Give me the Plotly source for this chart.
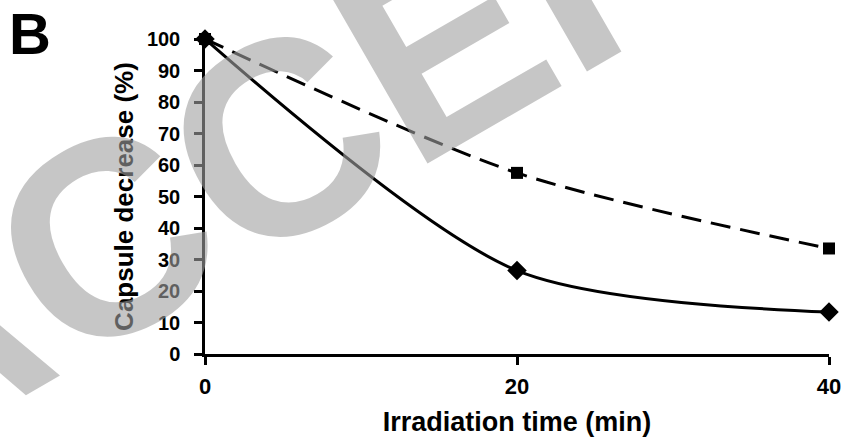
import plotly.graph_objects as go

time_min = [0, 20, 40]
series_dashed = [100, 57.5, 33.5]   # squares, dashed line
series_solid = [100, 26.5, 13.3]    # diamonds, solid line
x_ticks = [0, 20, 40]
y_ticks = [0, 10, 20, 30, 40, 50, 60, 70, 80, 90, 100]

W, H = 843, 445
L, R, T, B = 205, 14, 39, 91
pw, ph = W - L - R, H - T - B

def px_to_paper(px, py):
    return (px - L) / pw, (H - B - py) / ph

fig = go.Figure()
fig.add_trace(go.Scatter(
    x=time_min, y=series_dashed, mode="lines+markers",
    line=dict(color="black", width=3, dash="20px,10px", shape="spline", smoothing=0.8),
    marker=dict(symbol="square", size=12, color="black"),
    cliponaxis=False, showlegend=False))
fig.add_trace(go.Scatter(
    x=time_min, y=series_solid, mode="lines+markers",
    line=dict(color="black", width=3, shape="spline", smoothing=0.8),
    marker=dict(symbol="diamond", size=15, color="black"),
    cliponaxis=False, showlegend=False))

sans = "Liberation Sans, Arial, sans-serif"

fig.update_xaxes(
    range=[0, 40], tickvals=x_ticks, ticktext=[str(v) for v in x_ticks],
    automargin=False, ticklabeloverflow="allow",
    showline=True, linecolor="black", linewidth=2.5,
    ticks="outside", ticklen=8, tickwidth=2.5, tickcolor="black",
    ticklabelstandoff=3,
    tickfont=dict(family=sans, size=22, color="black", weight=700),
    showgrid=False, zeroline=False,
    title=dict(text="Irradiation time (min)", standoff=14,
               font=dict(family=sans, size=27, color="black", weight=700)))
fig.update_yaxes(
    range=[0, 100], tickvals=y_ticks,
    automargin=False,
    showline=True, linecolor="black", linewidth=2.5,
    ticks="outside", ticklen=8, tickwidth=2.5, tickcolor="black",
    ticklabelstandoff=10,
    tickfont=dict(family=sans, size=20, color="black", weight=700),
    showgrid=False, zeroline=False,
    title=dict(text="Capsule decrease (%)", standoff=6,
               font=dict(family=sans, size=26, color="black", weight=700)))

bx, by = px_to_paper(30, 33)
wx, wy = px_to_paper(503, 9)
fig.update_layout(
    width=W, height=H,
    margin=dict(l=L, r=R, t=T, b=B),
    plot_bgcolor="white", paper_bgcolor="white",
    annotations=[
        dict(text="B", x=bx, y=by, xref="paper", yref="paper", showarrow=False,
             xanchor="center", yanchor="middle",
             font=dict(family=sans, size=58, color="black", weight=700)),
        dict(text="ACCEPTED", x=wx, y=wy, xref="paper", yref="paper", showarrow=False,
             xanchor="center", yanchor="middle", textangle=-30,
             font=dict(family=sans, size=276,
                       color="rgba(160,160,160,0.6)", weight=700)),
    ])

fig.write_html("out.html", config={"displayModeBar": False},
               post_script="document.body.style.margin='0';document.body.style.overflow='hidden';")
